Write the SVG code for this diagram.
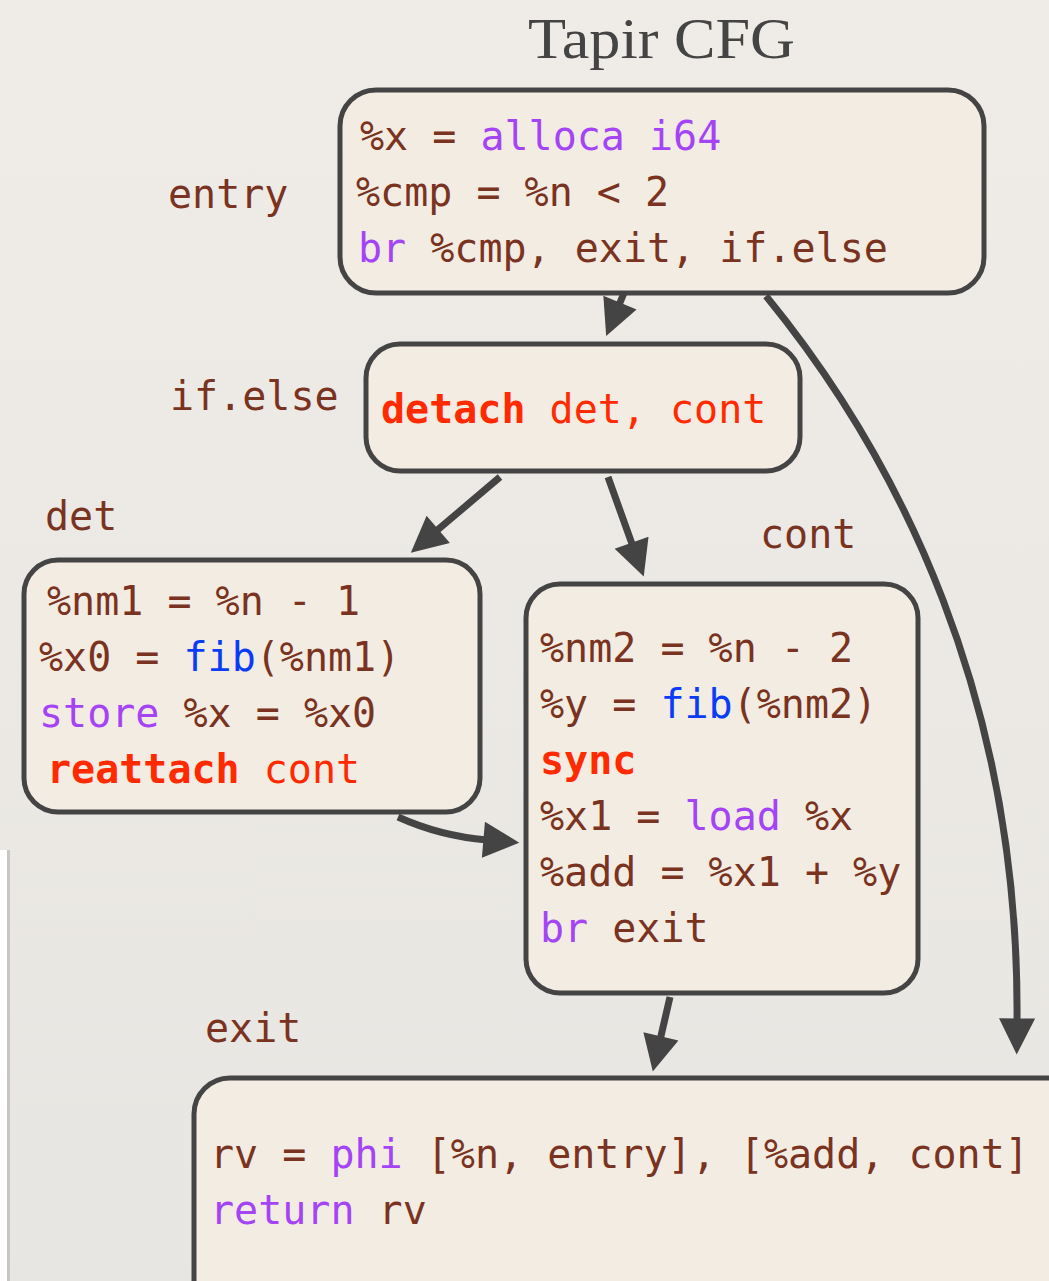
<svg xmlns="http://www.w3.org/2000/svg" width="1049" height="1281" viewBox="0 0 1049 1281">
  <style>
    .code { font-family: "DejaVu Sans Mono", "Liberation Mono", monospace; font-size: 40px; fill: #7a3320; }
    .lbl { font-family: "DejaVu Sans Mono", "Liberation Mono", monospace; font-size: 40px; fill: #7a3320; }
    .kw { fill: #a444f4; }
    .fn { fill: #0a3cf5; }
    .tp { fill: #ff2a00; }
    .b { font-weight: bold; }
    .box { fill: #f3ece3; stroke: #444; stroke-width: 5; }
    .edge { fill: none; stroke: #444; stroke-width: 7; marker-end: url(#head); }
    .title { font-family: "Liberation Serif", "DejaVu Serif", serif; font-size: 58px; fill: #444; }
  </style>
  <defs>
    <marker id="head" viewBox="0 0 10 10" refX="1" refY="5" markerWidth="41" markerHeight="36" markerUnits="userSpaceOnUse" orient="auto">
      <path d="M0,0 L10,5 L0,10 z" fill="#444"/>
    </marker>
    <linearGradient id="paper" x1="0" y1="0" x2="0" y2="1">
      <stop offset="0" stop-color="#efece8"/>
      <stop offset="1" stop-color="#e8e6e2"/>
    </linearGradient>
  </defs>

  <!-- paper backdrop -->
  <rect x="0" y="0" width="1049" height="1281" fill="url(#paper)"/>
  <rect x="0" y="850" width="8" height="431" fill="#ffffff"/>
  <rect x="7" y="850" width="3" height="431" fill="#c8c6c3"/>

  <text class="title" x="528" y="58" textLength="267" lengthAdjust="spacingAndGlyphs">Tapir CFG</text>

  <!-- connectors -->
  <g id="edges">
    <path class="edge" d="M624,293 L618.6,306"/>
    <path class="edge" d="M766,296 C900,460 1020,700 1017,1022"/>
    <path class="edge" d="M500,477 L435.5,531.7"/>
    <path class="edge" d="M608,477 L632.8,546.1"/>
    <path class="edge" d="M398,817 Q440,836 487,840"/>
    <path class="edge" d="M670,997 L660.1,1039.9"/>
  </g>

  <g id="entry">
    <text class="lbl" x="168" y="208">entry</text>
    <rect class="box" x="340" y="90" width="644" height="203" rx="36"/>
    <text class="code" x="360" y="150">%x = <tspan class="kw">alloca i64</tspan></text>
    <text class="code" x="356" y="206">%cmp = %n &lt; 2</text>
    <text class="code" x="358" y="262"><tspan class="kw">br</tspan> %cmp, exit, if.else</text>
  </g>

  <g id="if.else">
    <text class="lbl" x="170" y="410">if.else</text>
    <rect class="box" x="366" y="344" width="434" height="127" rx="34"/>
    <text class="code tp" x="381" y="423"><tspan class="b">detach</tspan> det, cont</text>
  </g>

  <g id="det">
    <text class="lbl" x="45" y="530">det</text>
    <rect class="box" x="24" y="560" width="456" height="252" rx="34"/>
    <text class="code" x="47" y="615">%nm1 = %n - 1</text>
    <text class="code" x="39" y="671">%x0 = <tspan class="fn">fib</tspan>(%nm1)</text>
    <text class="code" x="39" y="727"><tspan class="kw">store</tspan> %x = %x0</text>
    <text class="code tp" x="47" y="783"><tspan class="b">reattach</tspan> cont</text>
  </g>

  <g id="cont">
    <text class="lbl" x="760" y="548">cont</text>
    <rect class="box" x="526" y="584" width="392" height="409" rx="34"/>
    <text class="code" x="540" y="662">%nm2 = %n - 2</text>
    <text class="code" x="540" y="718">%y = <tspan class="fn">fib</tspan>(%nm2)</text>
    <text class="code tp b" x="540" y="774">sync</text>
    <text class="code" x="540" y="830">%x1 = <tspan class="kw">load</tspan> %x</text>
    <text class="code" x="540" y="886">%add = %x1 + %y</text>
    <text class="code" x="540" y="942"><tspan class="kw">br</tspan> exit</text>
  </g>

  <g id="exit">
    <text class="lbl" x="205" y="1042">exit</text>
    <rect class="box" x="194" y="1078" width="900" height="260" rx="36"/>
    <text class="code" x="210" y="1168">rv = <tspan class="kw">phi</tspan> [%n, entry], [%add, cont]</text>
    <text class="code" x="210" y="1224"><tspan class="kw">return</tspan> rv</text>
  </g>
</svg>
